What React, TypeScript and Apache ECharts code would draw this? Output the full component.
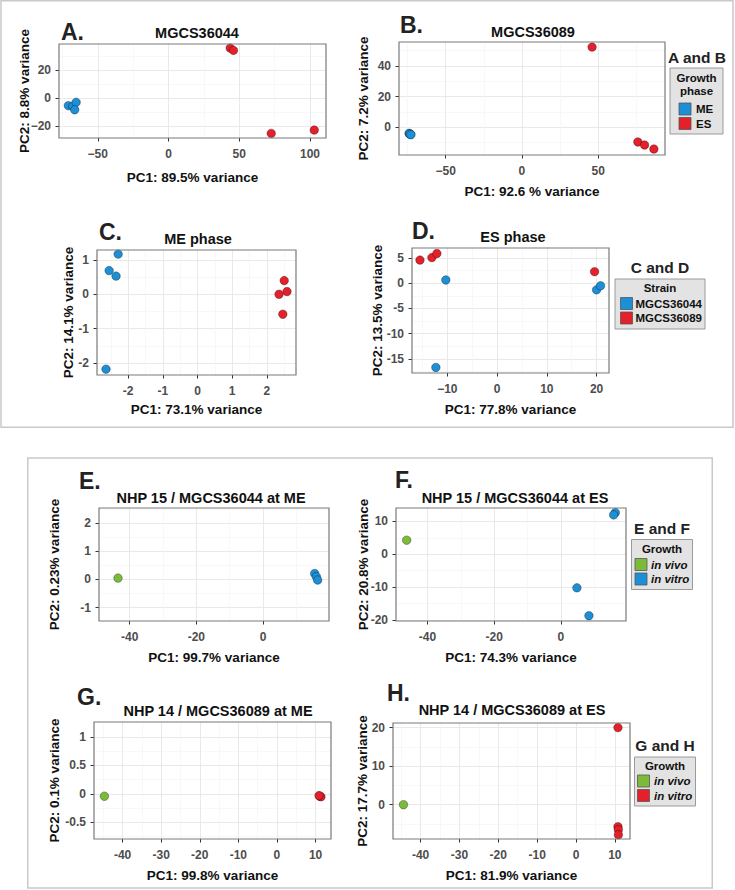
import React, { useEffect, useRef } from "react";
import * as echarts from "echarts";

const BLUE = "#1C8FD6";
const RED = "#E4202A";
const GREEN = "#7CBB3A";
const FONT = "'Liberation Sans', Arial, Helvetica, sans-serif";

// ---------- data (PC1, PC2) ----------
const A_ME = [[-70.8, -5.5], [-67.7, -6.0], [-65.3, -3.1], [-66.3, -8.4]];
const A_ES = [[43.6, 35.7], [45.9, 34.0], [72.6, -25.3], [103.0, -22.9]];
const B_ME = [[-74.0, -3.9], [-73.0, -4.5], [-73.6, -4.3], [-72.8, -4.8]];
const B_ES = [[46.0, 52.3], [76.0, -9.5], [80.4, -11.5], [86.5, -14.1]];
const C_36044 = [[-2.29, 1.17], [-2.55, 0.69], [-2.35, 0.53], [-2.64, -2.18]];
const C_36089 = [[2.5, 0.4], [2.58, 0.08], [2.35, 0.0], [2.46, -0.58]];
const D_36044 = [[-10.3, 0.66], [20.0, -1.3], [20.8, -0.5], [-12.3, -16.7]];
const D_36089 = [[-15.5, 4.6], [-13.1, 5.1], [-12.1, 5.9], [19.6, 2.3]];
const E_VIVO = [[-43.5, 0.05]];
const E_VITRO = [[15.5, 0.21], [16.0, 0.1], [16.4, -0.02]];
const F_VIVO = [[-46.2, 4.3]];
const F_VITRO = [[16.3, 12.7], [15.8, 12.0], [4.8, -10.2], [8.4, -18.7]];
const G_VIVO = [[-44.7, -0.04]];
const G_VITRO = [[11.1, -0.04], [11.4, -0.05], [10.9, -0.03]];
const H_VIVO = [[-44.4, 0.0]];
const H_VITRO = [[10.8, 20.0], [10.8, -5.7], [10.9, -6.5], [10.9, -7.8]];

// ---------- tick labels ----------
const A_X_TICKS = [-50, 0, 50, 100];
const A_Y_TICKS = [-20, 0, 20];
const B_X_TICKS = [-50, 0, 50];
const B_Y_TICKS = [0, 20, 40];
const C_X_TICKS = [-2, -1, 0, 1, 2];
const C_Y_TICKS = [-2, -1, 0, 1];
const D_X_TICKS = [-10, 0, 10, 20];
const D_Y_TICKS = [-15, -10, -5, 0, 5];
const E_X_TICKS = [-40, -20, 0];
const E_Y_TICKS = [-1, 0, 1, 2];
const F_X_TICKS = [-40, -20, 0];
const F_Y_TICKS = [-20, -10, 0, 10];
const G_X_TICKS = [-40, -30, -20, -10, 0, 10];
const G_Y_TICKS = [-0.5, 0, 0.5, 1];
const H_X_TICKS = [-40, -30, -20, -10, 0, 10];
const H_Y_TICKS = [0, 10, 20];

const MINUS = "\u2212";

type Group = { name: string; data: number[][]; color: string };
type Panel = {
  left: number; top: number; width: number; height: number;
  xMin: number; xMax: number; yMin: number; yMax: number;
  xTicks: number[]; yTicks: number[]; xStep: number; yStep: number;
  xMinus: string; yMinus: string;
  label: string; labelX: number; labelY: number;
  title: string; titleX: number; titleY: number;
  xName: string; xNameY: number;
  yName: string; yNameX: number;
  groups: Group[];
};

const panels: Panel[] = [
  {
    left: 59, top: 44, width: 267, height: 94,
    xMin: -77.4, xMax: 111.3, yMin: -28.6, yMax: 38.6,
    xTicks: A_X_TICKS, yTicks: A_Y_TICKS, xStep: 50, yStep: 20, xMinus: MINUS, yMinus: MINUS,
    label: "A.", labelX: 61, labelY: 32, title: "MGCS36044", titleX: 197, titleY: 33,
    xName: "PC1: 89.5% variance", xNameY: 177, yName: "PC2: 8.8% variance", yNameX: 24,
    groups: [{ name: "ME", data: A_ME, color: BLUE }, { name: "ES", data: A_ES, color: RED }],
  },
  {
    left: 399, top: 42, width: 266, height: 113,
    xMin: -80.6, xMax: 93.8, yMin: -18, yMax: 55.6,
    xTicks: B_X_TICKS, yTicks: B_Y_TICKS, xStep: 50, yStep: 20, xMinus: MINUS, yMinus: MINUS,
    label: "B.", labelX: 400, labelY: 25, title: "MGCS36089", titleX: 533, titleY: 32,
    xName: "PC1: 92.6 % variance", xNameY: 191, yName: "PC2: 7.2% variance", yNameX: 363,
    groups: [{ name: "ME", data: B_ME, color: BLUE }, { name: "ES", data: B_ES, color: RED }],
  },
  {
    left: 97, top: 250, width: 199, height: 125,
    xMin: -2.9, xMax: 2.84, yMin: -2.35, yMax: 1.29,
    xTicks: C_X_TICKS, yTicks: C_Y_TICKS, xStep: 1, yStep: 1, xMinus: "-", yMinus: "-",
    label: "C.", labelX: 99, labelY: 232, title: "ME phase", titleX: 198, titleY: 239,
    xName: "PC1: 73.1% variance", xNameY: 409, yName: "PC2: 14.1% variance", yNameX: 68,
    groups: [{ name: "MGCS36044", data: C_36044, color: BLUE }, { name: "MGCS36089", data: C_36089, color: RED }],
  },
  {
    left: 412, top: 248, width: 197, height: 125,
    xMin: -17.1, xMax: 22.5, yMin: -17.8, yMax: 7,
    xTicks: D_X_TICKS, yTicks: D_Y_TICKS, xStep: 10, yStep: 5, xMinus: MINUS, yMinus: "-",
    label: "D.", labelX: 412, labelY: 231, title: "ES phase", titleX: 513, titleY: 237,
    xName: "PC1: 77.8% variance", xNameY: 409, yName: "PC2: 13.5% variance", yNameX: 377,
    groups: [{ name: "MGCS36044", data: D_36044, color: BLUE }, { name: "MGCS36089", data: D_36089, color: RED }],
  },
  {
    left: 99, top: 508, width: 230, height: 113,
    xMin: -49.2, xMax: 19.8, yMin: -1.47, yMax: 2.53,
    xTicks: E_X_TICKS, yTicks: E_Y_TICKS, xStep: 20, yStep: 1, xMinus: "-", yMinus: "-",
    label: "E.", labelX: 79, labelY: 481, title: "NHP 15 / MGCS36044 at ME", titleX: 211, titleY: 498,
    xName: "PC1: 99.7% variance", xNameY: 657, yName: "PC2: 0.23% variance", yNameX: 54,
    groups: [{ name: "in vivo", data: E_VIVO, color: GREEN }, { name: "in vitro", data: E_VITRO, color: BLUE }],
  },
  {
    left: 396, top: 508, width: 230, height: 113,
    xMin: -49.4, xMax: 19.5, yMin: -20.3, yMax: 14.1,
    xTicks: F_X_TICKS, yTicks: F_Y_TICKS, xStep: 20, yStep: 10, xMinus: "-", yMinus: "-",
    label: "F.", labelX: 395, labelY: 480, title: "NHP 15 / MGCS36044 at ES", titleX: 515, titleY: 498,
    xName: "PC1: 74.3% variance", xNameY: 657, yName: "PC2: 20.8% variance", yNameX: 363,
    groups: [{ name: "in vivo", data: F_VIVO, color: GREEN }, { name: "in vitro", data: F_VITRO, color: BLUE }],
  },
  {
    left: 94, top: 722, width: 237, height: 117,
    xMin: -47.4, xMax: 14, yMin: -0.79, yMax: 1.26,
    xTicks: G_X_TICKS, yTicks: G_Y_TICKS, xStep: 10, yStep: 0.5, xMinus: "-", yMinus: "-",
    label: "G.", labelX: 77, labelY: 697, title: "NHP 14 / MGCS36089 at ME", titleX: 218, titleY: 711,
    xName: "PC1: 99.8% variance", xNameY: 875, yName: "PC2: 0.1% variance", yNameX: 54,
    groups: [{ name: "in vivo", data: G_VIVO, color: GREEN }, { name: "in vitro", data: G_VITRO, color: RED }],
  },
  {
    left: 393, top: 723, width: 237, height: 116,
    xMin: -47.1, xMax: 13.9, yMin: -8.9, yMax: 21.2,
    xTicks: H_X_TICKS, yTicks: H_Y_TICKS, xStep: 10, yStep: 10, xMinus: "-", yMinus: "-",
    label: "H.", labelX: 387, labelY: 693, title: "NHP 14 / MGCS36089 at ES", titleX: 512, titleY: 710,
    xName: "PC1: 81.9% variance", xNameY: 875, yName: "PC2: 17.7% variance", yNameX: 362,
    groups: [{ name: "in vivo", data: H_VIVO, color: GREEN }, { name: "in vitro", data: H_VITRO, color: RED }],
  },
];

type Legend = {
  heading: string; headingX: number; headingY: number;
  box: [number, number, number, number];
  lines: { text: string; y: number }[];
  keyX: number; keyTop: number; keySize: number; textX: number; italic: boolean;
  items: { name: string; color: string }[];
};

const legends: Legend[] = [
  {
    heading: "A and B", headingX: 697, headingY: 57, box: [670, 68, 53, 66],
    lines: [{ text: "Growth", y: 78 }, { text: "phase", y: 91 }],
    keyX: 679, keyTop: 103, keySize: 13, textX: 696, italic: false,
    items: [{ name: "ME", color: BLUE }, { name: "ES", color: RED }],
  },
  {
    heading: "C and D", headingX: 660, headingY: 267, box: [615, 279, 90, 50],
    lines: [{ text: "Strain", y: 287.5 }],
    keyX: 620.5, keyTop: 297.5, keySize: 13, textX: 635.5, italic: false,
    items: [{ name: "MGCS36044", color: BLUE }, { name: "MGCS36089", color: RED }],
  },
  {
    heading: "E and F", headingX: 662, headingY: 528, box: [631.5, 539.5, 61, 50],
    lines: [{ text: "Growth", y: 549 }],
    keyX: 635, keyTop: 558.5, keySize: 13, textX: 651, italic: true,
    items: [{ name: "in vivo", color: GREEN }, { name: "in vitro", color: BLUE }],
  },
  {
    heading: "G and H", headingX: 665, headingY: 745, box: [634.5, 757, 61, 49],
    lines: [{ text: "Growth", y: 766 }],
    keyX: 637.5, keyTop: 775, keySize: 13, textX: 654, italic: true,
    items: [{ name: "in vivo", color: GREEN }, { name: "in vitro", color: RED }],
  },
];

function fmtTick(v: number, ticks: number[], minus: string): string {
  if (!ticks.some((t) => Math.abs(t - v) < 1e-6)) return "";
  const s = String(Math.round(v * 1000) / 1000);
  return s.replace("-", minus);
}

function txt(text: string, x: number, y: number, size: number, extra: any = {}) {
  return {
    type: "text",
    x,
    y,
    z: 120,
    rotation: extra.rotation || 0,
    style: {
      text,
      fill: extra.fill || "#111",
      fontSize: size,
      fontWeight: "bold",
      fontStyle: extra.italic ? "italic" : "normal",
      fontFamily: FONT,
      align: extra.align || "center",
      verticalAlign: "middle",
    },
  };
}

function buildOption() {
  const grid = panels.map((p) => ({
    left: p.left, top: p.top, width: p.width, height: p.height,
    show: true, backgroundColor: "#ffffff", borderWidth: 0,
    containLabel: false, outerBoundsMode: "none",
  }));

  const axisCommon = (ticks: number[], minus: string, step: number, margin: number) => ({
    type: "value",
    minInterval: step,
    maxInterval: step,
    axisLine: { show: false, onZero: false },
    axisTick: { show: true, length: 3.5, customValues: ticks, lineStyle: { color: "#333", width: 1 } },
    axisLabel: {
      customValues: ticks,
      formatter: (v: number) => fmtTick(v, ticks, minus),
      color: "#4d4d4d", fontWeight: "bold", fontSize: 12, fontFamily: FONT, margin,
      showMinLabel: true, showMaxLabel: true, hideOverlap: false,
    },
    splitLine: { show: true, lineStyle: { color: "#e6e6e6", width: 0.9 } },
    minorTick: { show: false, splitNumber: 2 },
    minorSplitLine: { show: true, lineStyle: { color: "#f3f3f3", width: 0.6 } },
  });

  const xAxis = panels.map((p, i) => ({
    ...axisCommon(p.xTicks, p.xMinus, p.xStep, 10),
    gridIndex: i, position: "bottom", min: p.xMin, max: p.xMax,
  }));
  const yAxis = panels.map((p, i) => ({
    ...axisCommon(p.yTicks, p.yMinus, p.yStep, 8),
    gridIndex: i, position: "left", min: p.yMin, max: p.yMax,
  }));

  const series: any[] = [];
  panels.forEach((p, i) => {
    p.groups.forEach((g) => {
      series.push({
        type: "scatter", name: g.name, xAxisIndex: i, yAxisIndex: i,
        data: g.data, symbol: "circle", symbolSize: 8.5, silent: true,
        itemStyle: { color: g.color, borderColor: "rgba(0,0,0,0.55)", borderWidth: 0.6, opacity: 1 },
        emphasis: { disabled: true },
      });
    });
  });

  const elements: any[] = [];
  // outer frames
  elements.push({ type: "rect", z: 90, shape: { x: 1, y: 0.75, width: 732, height: 426.5 }, style: { fill: "none", stroke: "#c9c9c9", lineWidth: 1.5 } });
  elements.push({ type: "rect", z: 90, shape: { x: 27.75, y: 458, width: 684.5, height: 430 }, style: { fill: "none", stroke: "#c9c9c9", lineWidth: 1.5 } });

  panels.forEach((p) => {
    elements.push({ type: "rect", z: 100, shape: { x: p.left, y: p.top, width: p.width, height: p.height }, style: { fill: "none", stroke: "#7a7a7a", lineWidth: 1.2 } });
    elements.push(txt(p.label, p.labelX, p.labelY, 23, { align: "left", fill: "#222" }));
    elements.push(txt(p.title, p.titleX, p.titleY, 14.5));
    elements.push(txt(p.xName, p.left + p.width / 2, p.xNameY, 13.5));
    elements.push(txt(p.yName, p.yNameX, p.top + p.height / 2, 13.5, { rotation: Math.PI / 2 }));
  });

  legends.forEach((L) => {
    elements.push(txt(L.heading, L.headingX, L.headingY, 15.5, { fill: "#222" }));
    elements.push({ type: "rect", z: 100, shape: { x: L.box[0], y: L.box[1], width: L.box[2], height: L.box[3] }, style: { fill: "#e3e3e3", stroke: "#9a9a9a", lineWidth: 1 } });
    const cx = L.box[0] + L.box[2] / 2;
    L.lines.forEach((ln) => elements.push(txt(ln.text, cx, ln.y, 11.5)));
    L.items.forEach((it, k) => {
      const y0 = L.keyTop + k * (L.keySize + 1.5);
      elements.push({ type: "rect", z: 110, shape: { x: L.keyX, y: y0, width: L.keySize - 1, height: L.keySize - 1 }, style: { fill: it.color, stroke: "#555", lineWidth: 0.8 } });
      elements.push(txt(it.name, L.textX, y0 + (L.keySize - 1) / 2, 11.5, { align: "left", italic: L.italic }));
    });
  });

  return {
    animation: false,
    backgroundColor: "#ffffff",
    textStyle: { fontFamily: FONT },
    grid,
    xAxis,
    yAxis,
    series,
    graphic: { elements },
  };
}

export default function App() {
  const ref = useRef<HTMLDivElement | null>(null);
  useEffect(() => {
    if (!ref.current) return;
    const chart = echarts.init(ref.current, undefined, { renderer: "svg" });
    chart.setOption(buildOption() as any);
    return () => chart.dispose();
  }, []);
  return (
    <div
      ref={ref}
      style={{ position: "absolute", left: 0, top: 0, width: 735, height: 890, background: "#fff" }}
    />
  );
}
